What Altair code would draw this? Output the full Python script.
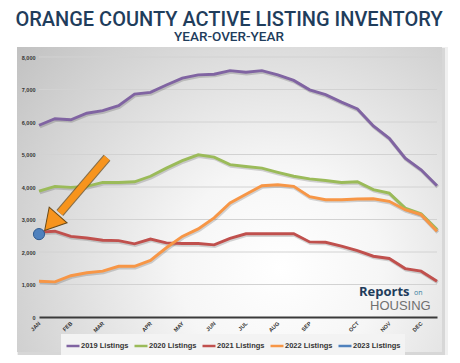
import altair as alt
import pandas as pd

# ---------------- data ----------------
series_names = ["2019 Listings", "2020 Listings", "2021 Listings", "2022 Listings", "2023 Listings"]
series_colors = ["#8064A2", "#9BBB59", "#C0504D", "#F79646", "#4F81BD"]

periods = list(range(26))  # bi-weekly reporting periods through the year
month_labels = ["JAN", "FEB", "MAR", "APR", "MAY", "JUN", "JUL", "AUG", "SEP", "OCT", "NOV", "DEC"]
month_tick_periods = [0, 2, 4, 7, 9, 11, 13, 15, 17, 20, 22, 24]

s2019 = [5900, 6100, 6070, 6270, 6350, 6500, 6860, 6910, 7140, 7350, 7450, 7470, 7580,
         7530, 7580, 7450, 7280, 6990, 6840, 6610, 6400, 5880, 5500, 4890, 4530, 4040]
s2020 = [3870, 4020, 3990, 4020, 4140, 4140, 4160, 4330, 4580, 4810, 4990, 4920, 4690,
         4630, 4580, 4450, 4330, 4250, 4200, 4140, 4160, 3920, 3810, 3350, 3180, 2690]
s2021 = [2610, 2640, 2480, 2430, 2360, 2350, 2250, 2400, 2280, 2260, 2260, 2220, 2420,
         2560, 2560, 2560, 2560, 2310, 2300, 2180, 2040, 1870, 1800, 1490, 1410, 1100]
s2022 = [1100, 1080, 1270, 1360, 1410, 1560, 1560, 1740, 2130, 2480, 2710, 3050, 3510,
         3780, 4040, 4070, 4020, 3700, 3610, 3610, 3630, 3640, 3560, 3300, 3150, 2640]
s2023 = [2550]

y_ticks = [0, 1000, 2000, 3000, 4000, 5000, 6000, 7000, 8000]

# annotation arrow (data space): tail -> base of head, head centre
arrow_tail = [4.27, 4900]
arrow_base = [1.31, 3200]
arrow_head = [0.92, 2980]

title_text = "ORANGE COUNTY ACTIVE LISTING INVENTORY"
subtitle_text = "YEAR-OVER-YEAR"
logo_texts = ["Reports", "on", "HOUSING"]

# ---------------- tables ----------------
rows = []
for name, vals in zip(series_names, [s2019, s2020, s2021, s2022, s2023]):
    for p, v in zip(periods, vals):
        rows.append({"period": p, "value": v, "series": name})
df = pd.DataFrame(rows)
df2023 = df[df["series"] == "2023 Listings"]

label_arr = [""] * len(periods)
for p, m in zip(month_tick_periods, month_labels):
    label_arr[p] = m
label_expr = "[" + ",".join("'" + s + "'" for s in label_arr) + "][datum.value]"

one = pd.DataFrame({"a": [0]})
grid_df = pd.DataFrame({"value": y_ticks[1:]})
arrow_df = pd.DataFrame({"period": [arrow_tail[0]], "value": [arrow_tail[1]],
                         "period2": [arrow_base[0]], "value2": [arrow_base[1]]})
head_df = pd.DataFrame({"period": [arrow_head[0]], "value": [arrow_head[1]]})

xscale = alt.Scale(domain=[0, 25], nice=False, zero=False)
yscale = alt.Scale(domain=[0, 8000], nice=False)

x_axis = alt.Axis(values=month_tick_periods, labelExpr=label_expr, labelAngle=315,
                  labelAlign="right", labelBaseline="middle", labelFontSize=5.5,
                  labelFontWeight="bold", labelColor="#333333", labelPadding=5,
                  labelOverlap=False, ticks=False, grid=False, domainColor="#3a3a3a",
                  domainWidth=2, title=None, labelFont="Liberation Sans", zindex=1)
y_axis = alt.Axis(values=y_ticks, labelExpr="format(datum.value, ',')", labelFontSize=5.5,
                  labelFontWeight="bold", labelColor="#333333", labelPadding=4,
                  labelOverlap=False, ticks=False, domain=False, grid=False, title=None,
                  labelFont="Liberation Sans", zindex=1)

X = alt.X("period:Q", scale=xscale, axis=x_axis)
Y = alt.Y("value:Q", scale=yscale, axis=y_axis)

gradient = {
    "gradient": "radial",
    "x1": 0.62, "y1": 0.66, "r1": 0,
    "x2": 0.62, "y2": 0.66, "r2": 0.8,
    "stops": [{"offset": 0, "color": "#ffffff"},
              {"offset": 0.3, "color": "#f6f6f6"},
              {"offset": 1, "color": "#c2c2c2"}],
}

shadow2 = alt.Chart(one).mark_rect(fill="#000000", opacity=0.06).encode(
    x=alt.value(-22), x2=alt.value(409), y=alt.value(-10), y2=alt.value(301))
shadow1 = alt.Chart(one).mark_rect(fill="#000000", opacity=0.1).encode(
    x=alt.value(-21), x2=alt.value(406), y=alt.value(-9), y2=alt.value(298))
frame = alt.Chart(one).mark_rect(fill=gradient).encode(
    x=alt.value(-22), x2=alt.value(403), y=alt.value(-10), y2=alt.value(295))

grid = alt.Chart(grid_df).mark_rule(color="#d2d2d2", strokeWidth=1).encode(
    y=Y, x=alt.value(0), x2=alt.value(398))

line_shadow = alt.Chart(df).mark_line(stroke="#000000", opacity=0.16, strokeWidth=3.6,
                                      xOffset=0.8, yOffset=1.3).encode(
    x=X, y=Y, detail="series:N")
lines = alt.Chart(df).mark_line(strokeWidth=2.9).encode(
    x=X, y=Y,
    color=alt.Color("series:N", scale=alt.Scale(domain=series_names, range=series_colors),
                    legend=alt.Legend(orient="none", legendX=22, legendY=277,
                                      direction="horizontal", title=None,
                                      symbolType="stroke", symbolSize=169,
                                      symbolStrokeWidth=2.5, labelFontSize=7.5,
                                      labelFontWeight="bold", labelColor="#333333",
                                      labelFont="Liberation Sans",
                                      labelOffset=0, columnPadding=0,
                                      fillColor="#f3f3f3", padding=4)))
dot = alt.Chart(df2023).mark_point(filled=True, size=125, opacity=1, color="#4F81BD",
                                   stroke="#2f5a8f", strokeWidth=1).encode(x=X, y=Y)

arrow_out = alt.Chart(arrow_df).mark_rule(color="#6a4a18", strokeWidth=9, opacity=0.75).encode(
    x=X, y=Y, x2="period2:Q", y2="value2:Q")
arrow_in = alt.Chart(arrow_df).mark_rule(color="#F7941D", strokeWidth=7).encode(
    x=X, y=Y, x2="period2:Q", y2="value2:Q")
head = alt.Chart(head_df).mark_point(shape="triangle", filled=True, size=560, angle=221,
                                     color="#F7941D", stroke="#6a4a18", strokeWidth=1,
                                     opacity=1).encode(x=X, y=Y)

logo1 = alt.Chart(one).mark_text(text=logo_texts[0], font="Open Sans", fontSize=13,
                                 fontWeight="bold", color="#1f3d5c", align="left",
                                 baseline="alphabetic").encode(x=alt.value(320), y=alt.value(239))
logo2 = alt.Chart(one).mark_text(text=logo_texts[1], font="Open Sans", fontSize=7,
                                 color="#3a7fa0", align="left",
                                 baseline="alphabetic").encode(x=alt.value(375), y=alt.value(238))
logo3 = alt.Chart(one).mark_text(text=logo_texts[2], font="Liberation Sans", fontSize=13,
                                 color="#707070", align="left",
                                 baseline="alphabetic").encode(x=alt.value(331), y=alt.value(253))

chart = alt.layer(shadow2, shadow1, frame, grid, line_shadow, lines, dot, arrow_out, arrow_in,
                  head, logo1, logo2, logo3).properties(
    width=398, height=260,
    padding={"left": 31, "top": 49, "right": 13, "bottom": 38},
    autosize=alt.AutoSizeParams(type="none"),
    title=alt.TitleParams(text=title_text, subtitle=subtitle_text, font="Roboto",
                          fontSize=20, fontWeight=500, color="#1f3d5c",
                          subtitleFont="Roboto", subtitleFontSize=13.5,
                          subtitleFontWeight=500, subtitleColor="#1f3d5c",
                          subtitlePadding=0, anchor="middle", frame="group",
                          dx=-9, offset=4),
).configure_view(stroke=None).configure(background="#ffffff")

chart.save("out.html", embed_options={"renderer": "svg", "actions": False})
